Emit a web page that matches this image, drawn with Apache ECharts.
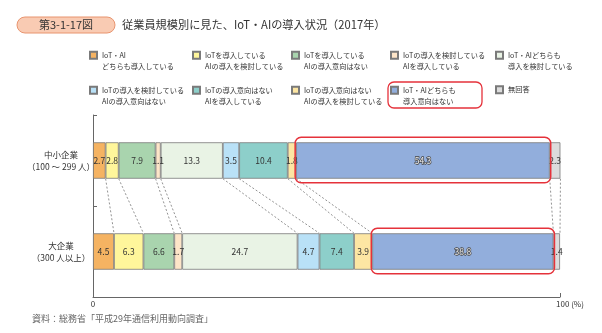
<!DOCTYPE html>
<html>
<head>
<meta charset="utf-8">
<script src="https://cdn.jsdelivr.net/npm/echarts@6/dist/echarts.min.js"></script>
<style>
html, body { margin: 0; padding: 0; background: #fff; }
#iot-chart { width: 602px; height: 333px; }
</style>
</head>
<body>
<div id="iot-chart"></div>
<script>
// categories (top to bottom)
const categories = ['中小企業\n（100 ～ 299 人）', '大企業\n（300 人以上）'];

// series names (legend text, two lines)
const seriesNames = [
  'IoT・AI\nどちらも導入している',
  'IoTを導入している\nAIの導入を検討している',
  'IoTを導入している\nAIの導入意向はない',
  'IoTの導入を検討している\nAIを導入している',
  'IoT・AIどちらも\n導入を検討している',
  'IoTの導入を検討している\nAIの導入意向はない',
  'IoTの導入意向はない\nAIを導入している',
  'IoTの導入意向はない\nAIの導入を検討している',
  'IoT・AIどちらも\n導入意向はない',
  '無回答'
];

// values (%)
const smallCompany = [2.7, 2.8, 7.9, 1.1, 13.3, 3.5, 10.4, 1.8, 54.3, 2.3];
const largeCompany = [4.5, 6.3, 6.6, 1.7, 24.7, 4.7, 7.4, 3.9, 38.8, 1.4];

const colors = ['#F5B362', '#FFF69B', '#A9D4AE', '#FDE5C8', '#E9F3E5',
  '#B9E1F7', '#8DCFCA', '#FDE6A3', '#92AEDC', '#DCDCDC'];

const highlightIndex = 8;
const xTicks = [0, 100];

const FONT = 'Noto Sans CJK JP';

// cumulative boundaries for the dotted connectors
const cumulate = (arr) => {
  let s = 0;
  return arr.map((v) => (s += v));
};
const cumSmall = cumulate(smallCompany);
const cumLarge = cumulate(largeCompany);

const chart = echarts.init(document.getElementById('iot-chart'));

const legendLeft = [89, 192, 291, 390, 495];

const barSeries = seriesNames.map((name, i) => ({
  name: name,
  type: 'bar',
  stack: 'total',
  barWidth: '40%',
  data: [smallCompany[i], largeCompany[i]],
  itemStyle: { color: colors[i], borderColor: '#7a7a7a', borderWidth: 0.8 },
  label: {
    show: true,
    position: 'inside',
    fontFamily: FONT,
    fontSize: 8.5,
    color: i === highlightIndex ? '#eeeeee' : '#333',
    textBorderColor: i === highlightIndex ? '#444' : 'transparent',
    textBorderWidth: i === highlightIndex ? 1.4 : 0
  },
  emphasis: { disabled: true },
  animation: false
}));

// dotted lines between the two bars + red boxes round the highlighted segment
const connectorSeries = {
  type: 'custom',
  coordinateSystem: 'cartesian2d',
  clip: false,
  silent: true,
  z: 5,
  encode: { x: 0, y: 2 },
  data: cumSmall.map((c, i) => [c, cumLarge[i], 0, i]),
  renderItem: function (params, api) {
    const k = api.value(3);
    const half = api.size([0, 1])[1] * 0.2;
    const top = api.coord([api.value(0), 0]);
    const bottom = api.coord([api.value(1), 1]);
    const children = [{
      type: 'line',
      shape: { x1: top[0], y1: top[1] + half, x2: bottom[0], y2: bottom[1] - half },
      style: { stroke: '#777', lineWidth: 0.8, lineDash: [2, 2] }
    }];
    if (k === highlightIndex) {
      const s0 = api.coord([cumSmall[k] - smallCompany[k], 0]);
      const l0 = api.coord([cumLarge[k] - largeCompany[k], 1]);
      [[s0, top], [l0, bottom]].forEach(([a, b]) => {
        children.push({
          type: 'rect',
          shape: { x: a[0] - 1, y: a[1] - half - 5, width: b[0] - a[0] + 2, height: half * 2 + 9, r: 6 },
          style: { fill: 'none', stroke: '#E5323B', lineWidth: 1.5 }
        });
      });
    }
    return { type: 'group', children: children };
  },
  animation: false
};

chart.setOption({
  textStyle: { fontFamily: FONT },
  title: [{
    text: '従業員規模別に見た、IoT・AIの導入状況（2017年）',
    left: 122,
    top: 18,
    padding: 0,
    textStyle: { fontSize: 11.2, fontWeight: 'normal', color: '#333', fontFamily: FONT, lineHeight: 14 }
  }, {
    text: '資料：総務省「平成29年通信利用動向調査」',
    left: 32,
    top: 313,
    padding: 0,
    textStyle: { fontSize: 9, fontWeight: 'normal', color: '#666', fontFamily: FONT, lineHeight: 12 }
  }],
  graphic: [{
    type: 'rect',
    shape: { x: 17, y: 17, width: 98, height: 16, r: 8 },
    style: { fill: '#F9CBB3', stroke: '#E8946F', lineWidth: 1 }
  }, {
    type: 'text',
    x: 66, y: 25,
    style: { text: '第3-1-17図', fill: '#333', font: '11px "Noto Sans CJK JP"', align: 'center', verticalAlign: 'middle' }
  }, {
    type: 'rect',
    shape: { x: 388, y: 82, width: 94, height: 26, r: 6 },
    style: { fill: 'none', stroke: '#E5323B', lineWidth: 1.3 }
  }],
  legend: seriesNames.map((name, i) => {
    const twoLine = name.indexOf('\n') >= 0;
    const lineCenter = i < 5 ? 55 : 90;
    return {
      data: [name],
      left: legendLeft[i % 5],
      top: twoLine ? lineCenter - 17 : lineCenter - 6,
      padding: 0,
      itemWidth: 7,
      itemHeight: 7,
      icon: 'rect',
      selectedMode: false,
      formatter: (n) => (n.indexOf('\n') >= 0 ? '\n' + n : n),
      textStyle: { fontFamily: FONT, fontSize: 7.2, lineHeight: 11.5, color: '#333' }
    };
  }),
  grid: { left: 93, right: 42, top: 115, bottom: 36, outerBoundsMode: 'none' },
  xAxis: {
    type: 'value',
    min: xTicks[0],
    max: xTicks[1],
    interval: 100,
    splitLine: { show: false },
    axisLine: { show: true, lineStyle: { color: '#666' } },
    axisTick: { show: true, inside: true, length: 4, lineStyle: { color: '#666' } },
    axisLabel: {
      margin: 3,
      fontSize: 8,
      color: '#333',
      formatter: (v) => (v === 100 ? '{p|100 (%)}' : String(v)),
      rich: { p: { fontSize: 8, color: '#333', padding: [0, 0, 0, 20] } }
    }
  },
  yAxis: {
    type: 'category',
    data: categories,
    inverse: true,
    axisLine: { show: true, lineStyle: { color: '#666' } },
    axisTick: { show: true, inside: true, length: 4, lineStyle: { color: '#666' } },
    axisLabel: { align: 'center', margin: 32, fontSize: 8.5, lineHeight: 12, color: '#333' }
  },
  series: barSeries.concat([connectorSeries])
});

window.addEventListener('resize', function () {
  chart.resize();
});
</script>
</body>
</html>
